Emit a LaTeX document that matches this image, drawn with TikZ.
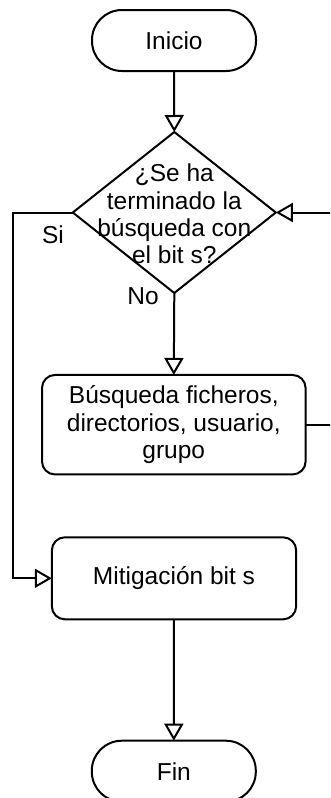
\documentclass[tikz,border=0pt]{standalone}
\usepackage{fontspec}
\setmainfont{Liberation Sans}
\usetikzlibrary{arrows.meta,shapes.geometric}

\tikzset{
  base/.style={draw=black, line width=2pt, outer sep=0pt, inner sep=0pt,
    font=\fontsize{24.5}{27.5}\selectfont, align=center},
  terminal/.style={base, rectangle, rounded corners=30pt,
    minimum width=164pt, minimum height=61pt},
  process/.style={base, rectangle, rounded corners=13pt},
  decision/.style={base, diamond, minimum width=203pt, minimum height=161pt},
  txt/.style={inner sep=0pt, outer sep=0pt,
    font=\fontsize{24.5}{27.4}\selectfont, align=center},
  flow/.style={line width=2pt,
    -{Triangle[open, length=17pt, width=19pt, line width=2pt]}}
}

\begin{document}
\begin{tikzpicture}[x=1pt, y=-1pt]
  \useasboundingbox (0,0) rectangle (330,798);
  \clip (0,0) rectangle (330,798);

  % flowchart steps
  \node[terminal] (ini) at (174,40.5) {Inicio};
  \node[decision] (q) at (174.3,212.5) {};
  \node[txt] (qt) at (174.3,214) {¿Se ha\\terminado la\\búsqueda con\\el bit s?};
  \node[process, minimum width=263.6pt, minimum height=99.5pt] (bus) at (173.8,424.7)
    {Búsqueda ficheros,\\directorios, usuario,\\grupo};
  \node[process, minimum width=244.3pt, minimum height=82pt] (mit) at (174,578.3)
    {Mitigación bit s};
  \node[terminal] (fin) at (173.8,771.2) {Fin};

  % branch labels
  \node[txt] (si) at (53,235) {Si};
  \node[txt] (no) at (143,296) {No};

  % routing points
  \coordinate (lft) at (13.3,212.5);
  \coordinate (rgtlow) at (336,424.7);
  \coordinate (rgthigh) at (336,212.5);

  % connectors
  \draw[flow] (ini) -- (q.north);
  \draw[flow] (q.south) -- (bus.north);
  \draw[flow] (q.west) -- (lft) |- (mit.west);
  \draw[flow] (bus.east) -- (rgtlow) -- (rgthigh) -- (q.east);
  \draw[flow] (mit.south) -- (fin.north);
\end{tikzpicture}
\end{document}
